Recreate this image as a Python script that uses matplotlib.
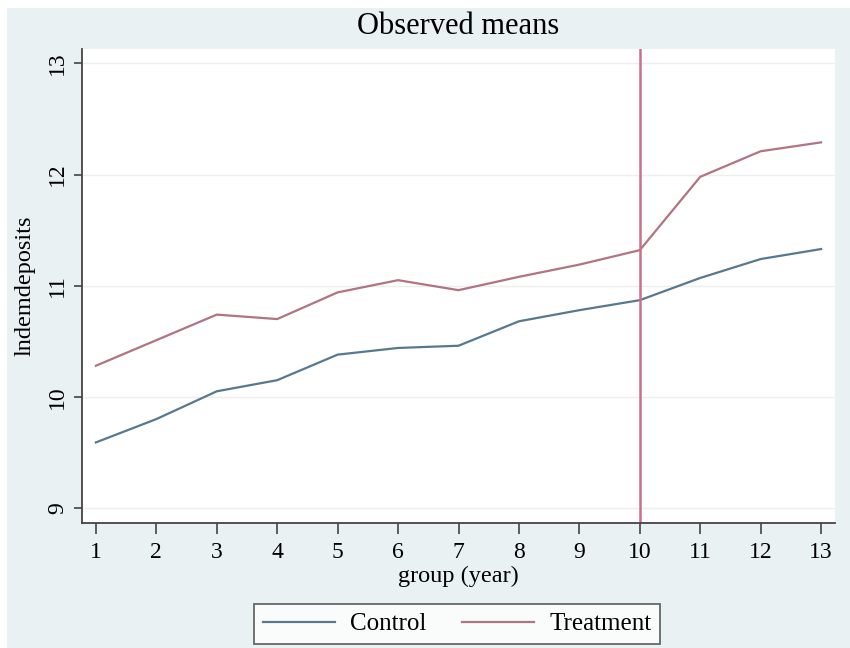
import matplotlib.pyplot as plt
from matplotlib.patches import Rectangle

years = [1, 2, 3, 4, 5, 6, 7, 8, 9, 10, 11, 12, 13]
control = [9.59, 9.80, 10.05, 10.15, 10.38, 10.44, 10.46, 10.68, 10.78, 10.87, 11.07, 11.24, 11.33]
treatment = [10.28, 10.51, 10.74, 10.70, 10.94, 11.05, 10.96, 11.08, 11.19, 11.32, 11.98, 12.21, 12.29]
yticks = [9, 10, 11, 12, 13]
event_year = 10

plt.rcParams['font.family'] = ['Liberation Serif', 'DejaVu Serif']

W, H = 850, 648
fig = plt.figure(figsize=(8.5, 6.48), dpi=100, facecolor='white')
# stata-like graph region
fig.patches.append(Rectangle((7 / W, 0), 1 - 7 / W, 1 - 8 / H, transform=fig.transFigure,
                             facecolor='#e9f1f3', edgecolor='none', zorder=-1))

left, right, top, bottom = 82, 835, 49, 523
ax = fig.add_axes([left / W, 1 - bottom / H, (right - left) / W, (bottom - top) / H])
ax.set_facecolor('white')

ax.plot(years, control, color='#58788f', lw=1.6, label='Control')
ax.plot(years, treatment, color='#b07482', lw=1.6, label='Treatment')
ax.axvline(event_year, color='#cc6f8c', lw=1.8)

ax.set_xlim(0.77, 13.23)
ax.set_ylim(8.865, 13.13)
ax.set_xticks(years)
ax.set_yticks(yticks)
ax.yaxis.grid(True, color='#eeeeee', lw=1)
ax.set_axisbelow(True)

for s in ['top', 'right']:
    ax.spines[s].set_visible(False)
for s in ['left', 'bottom']:
    ax.spines[s].set_color('#444444')
    ax.spines[s].set_linewidth(1.3)

ax.tick_params(axis='x', length=8, width=1.2, color='#444444', labelsize=17, pad=6)
ax.tick_params(axis='y', length=6, width=1.2, color='#444444', labelsize=17, pad=4)
for lbl in ax.get_yticklabels():
    lbl.set_rotation(90)
    lbl.set_va('center')

ax.set_xlabel('group (year)', fontsize=17.5, labelpad=2)
ax.set_ylabel('lndemdeposits', fontsize=17.5, labelpad=8)

fig.text(458 / W, 1 - 27 / H, 'Observed means', ha='center', va='center', fontsize=22)

leg = fig.legend(loc='center', bbox_to_anchor=(457 / W, 1 - 624 / H), ncol=2, fontsize=18,
                 frameon=True, fancybox=False, handlelength=2.9, columnspacing=1.4,
                 borderpad=0.35, handletextpad=0.6)
leg.get_frame().set_edgecolor('#444444')
leg.get_frame().set_linewidth(1.3)

fig.savefig('out.png', dpi=100, facecolor=fig.get_facecolor())
